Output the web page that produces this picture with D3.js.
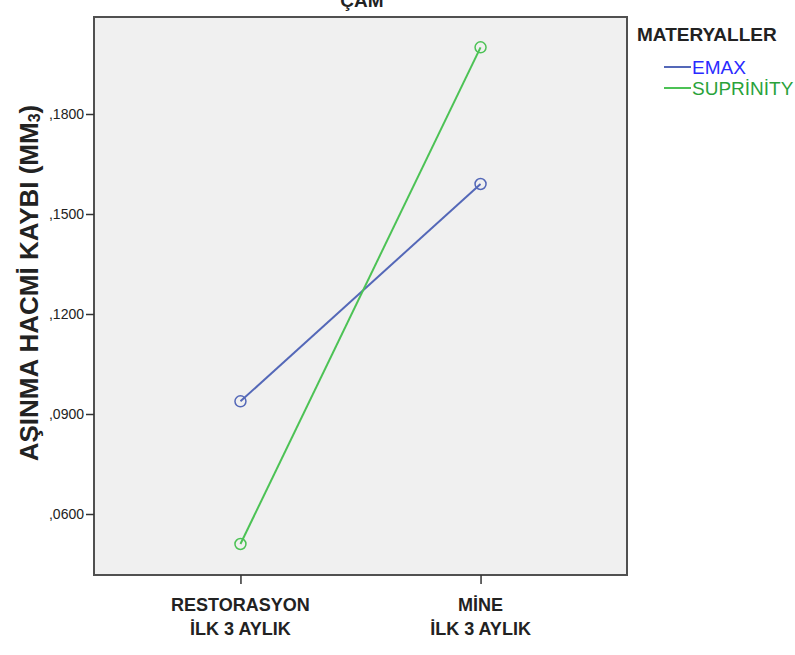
<!DOCTYPE html>
<html>
<head>
<meta charset="utf-8">
<script src="https://cdn.jsdelivr.net/npm/d3@7"></script>
<style>
  body { margin: 0; background: #fff; }
  text { font-family: Arial, "Liberation Sans", sans-serif; }
</style>
</head>
<body>
<div id="chart-area"></div>
<script>
var categories = [["RESTORASYON", "İLK 3 AYLIK"], ["MİNE", "İLK 3 AYLIK"]];
var seriesNames = ["EMAX", "SUPRİNİTY"];
var emaxValues = [0.0938, 0.1590];
var suprinityValues = [0.0510, 0.2000];
var yTicks = [0.06, 0.09, 0.12, 0.15, 0.18];

var lineColors = ["#5468b8", "#4cc255"];
var textColors = ["#2a2aff", "#2aa23a"];

var svg = d3.select("#chart-area")
  .append("svg")
  .attr("width", 795)
  .attr("height", 655);

var plotLeft = 94, plotRight = 627, plotTop = 17, plotBottom = 575;

var x = d3.scalePoint()
  .domain([0, 1])
  .range([plotLeft, plotRight])
  .padding(0.61);

var y = d3.scaleLinear()
  .domain([0.0417, 0.2091])
  .range([plotBottom, plotTop]);

// plot background
svg.append("rect")
  .attr("x", plotLeft).attr("y", plotTop)
  .attr("width", plotRight - plotLeft).attr("height", plotBottom - plotTop)
  .attr("fill", "#f0f0f0")
  .attr("stroke", "#505050")
  .attr("stroke-width", 2);

// title (cut off at top, as in the source)
svg.append("text")
  .attr("x", 362).attr("y", 7)
  .attr("text-anchor", "middle")
  .attr("font-size", 19).attr("font-weight", "bold")
  .attr("fill", "#222")
  .text("ÇAM");

// y axis
var yAxis = d3.axisLeft(y)
  .tickValues(yTicks)
  .tickSize(8)
  .tickFormat(d => "," + d3.format(".4f")(d).slice(2));

var gy = svg.append("g")
  .attr("transform", "translate(" + plotLeft + ",0)")
  .call(yAxis);
gy.select(".domain").remove();
gy.selectAll(".tick line").attr("stroke", "#333").attr("stroke-width", 1.5);
gy.selectAll(".tick text")
  .attr("font-size", 14).attr("fill", "#222").attr("x", -10)
  .attr("font-family", "Arial, 'Liberation Sans', sans-serif");

// x axis
var xAxis = d3.axisBottom(x).tickSize(9).tickFormat("");
var gx = svg.append("g")
  .attr("transform", "translate(0," + plotBottom + ")")
  .call(xAxis);
gx.select(".domain").remove();
gx.selectAll(".tick line").attr("stroke", "#333").attr("stroke-width", 1.5);

categories.forEach((c, i) => {
  var t = svg.append("text")
    .attr("x", x(i))
    .attr("text-anchor", "middle")
    .attr("font-size", 18).attr("font-weight", "bold")
    .attr("fill", "#222");
  t.append("tspan").attr("x", x(i)).attr("y", 611).text(c[0]);
  t.append("tspan").attr("x", x(i)).attr("y", 635).text(c[1]);
});

// y label
var yl = svg.append("text")
  .attr("transform", "translate(38,283) rotate(-90)")
  .attr("text-anchor", "middle")
  .attr("font-size", 26).attr("font-weight", "bold")
  .attr("fill", "#222");
yl.append("tspan").text("AŞINMA HACMİ KAYBI (MM");
yl.append("tspan").attr("font-size", 16).attr("dy", 2).text("3");
yl.append("tspan").attr("dy", -2).text(")");

// lines
var series = [emaxValues, suprinityValues];
var line = d3.line()
  .x((d, i) => x(i))
  .y(d => y(d));

series.forEach((vals, s) => {
  svg.append("path")
    .datum(vals)
    .attr("d", line)
    .attr("fill", "none")
    .attr("stroke", lineColors[s])
    .attr("stroke-width", 2);

  svg.selectAll(".pt" + s)
    .data(vals)
    .enter()
    .append("circle")
      .attr("cx", (d, i) => x(i))
      .attr("cy", d => y(d))
      .attr("r", 5.5)
      .attr("fill", "none")
      .attr("stroke", lineColors[s])
      .attr("stroke-width", 1.5);
});

// legend
svg.append("text")
  .attr("x", 637).attr("y", 41)
  .attr("font-size", 19).attr("font-weight", "bold")
  .attr("fill", "#222")
  .text("MATERYALLER");

seriesNames.forEach((n, i) => {
  var ly = 67 + i * 21;
  svg.append("line")
    .attr("x1", 664).attr("x2", 691)
    .attr("y1", ly).attr("y2", ly)
    .attr("stroke", lineColors[i]).attr("stroke-width", 2);
  svg.append("text")
    .attr("x", 692).attr("y", ly + 7)
    .attr("font-size", 19)
    .attr("fill", textColors[i])
    .text(n);
});
</script>
</body>
</html>
